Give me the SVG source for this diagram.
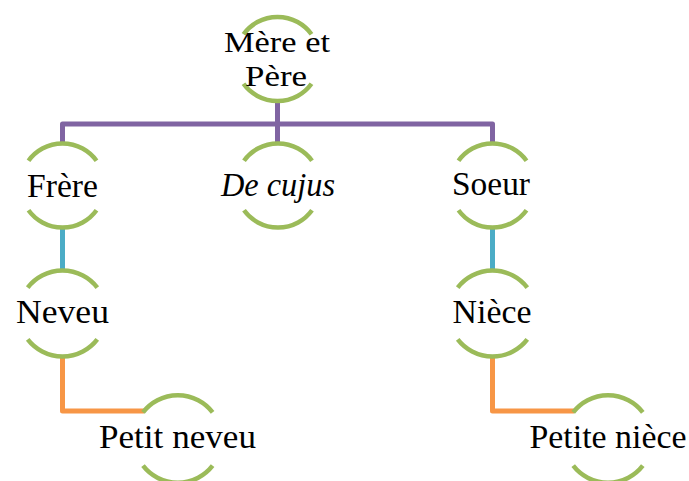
<svg xmlns="http://www.w3.org/2000/svg" width="689" height="481" viewBox="0 0 689 481" font-family="Liberation Serif, DejaVu Serif, serif">
<style>
.arc{fill:none;stroke:#9BBB59;stroke-width:4.5}
.lbl{fill:#000;text-anchor:middle}
.c{fill:none;stroke-width:5;stroke-linejoin:round}
</style>
<rect width="689" height="481" fill="#fff"/>
<g id="connectors">
<path class="c" stroke="#8064A2" d="M62.5,143 V124 H492.5 V143"/>
<path class="c" stroke="#8064A2" d="M277.5,100 V143"/>
<path class="c" stroke="#4BACC6" d="M62.5,228 V270"/>
<path class="c" stroke="#4BACC6" d="M492.5,228 V270"/>
<path class="c" stroke="#F79646" stroke-width="4.5" d="M62.5,357 V411 H144"/>
<path class="c" stroke="#F79646" stroke-width="4.5" d="M492.5,357 V411 H574"/>
</g>
<g id="n-parents">
<path class="arc" d="M243.5,34.3 A42,42 0 0 1 311.5,34.3 M243.5,83.7 A42,42 0 0 0 311.5,83.7"/>
<text class="lbl" x="277" y="52" font-size="30" textLength="106" lengthAdjust="spacingAndGlyphs">Mère et</text>
<text class="lbl" x="276" y="86" font-size="30" textLength="62" lengthAdjust="spacingAndGlyphs">Père</text>
</g>
<g id="n-frere">
<path class="arc" d="M28.5,160.8 A42,42 0 0 1 96.5,160.8 M28.5,210.2 A42,42 0 0 0 96.5,210.2"/>
<text class="lbl" x="62.5" y="197" font-size="33" textLength="71" lengthAdjust="spacingAndGlyphs">Frère</text>
</g>
<g id="n-decujus">
<path class="arc" d="M244,160.8 A42,42 0 0 1 312,160.8 M244,210.2 A42,42 0 0 0 312,210.2"/>
<text class="lbl" x="278" y="196" font-size="33" font-style="italic" textLength="114" lengthAdjust="spacingAndGlyphs">De cujus</text>
</g>
<g id="n-soeur">
<path class="arc" d="M458.5,160.8 A42,42 0 0 1 526.5,160.8 M458.5,210.2 A42,42 0 0 0 526.5,210.2"/>
<text class="lbl" x="491" y="195" font-size="33" textLength="78" lengthAdjust="spacingAndGlyphs">Soeur</text>
</g>
<g id="n-neveu">
<path class="arc" d="M27.7,287.6 A44,44 0 0 1 97.3,287.6 M27.7,339.4 A44,44 0 0 0 97.3,339.4"/>
<text class="lbl" x="62.5" y="323" font-size="33" textLength="93" lengthAdjust="spacingAndGlyphs">Neveu</text>
</g>
<g id="n-niece">
<path class="arc" d="M457.7,287.6 A44,44 0 0 1 527.3,287.6 M457.7,339.4 A44,44 0 0 0 527.3,339.4"/>
<text class="lbl" x="492" y="323" font-size="33" textLength="79" lengthAdjust="spacingAndGlyphs">Nièce</text>
</g>
<g id="n-petitneveu">
<path class="arc" d="M143,412.4 A44,44 0 0 1 212.6,412.4 M143,465.6 A44,44 0 0 0 212.6,465.6"/>
<text class="lbl" x="177.5" y="448" font-size="33" textLength="157" lengthAdjust="spacingAndGlyphs">Petit neveu</text>
</g>
<g id="n-petiteniece">
<path class="arc" d="M573.2,412.4 A44,44 0 0 1 642.8,412.4 M573.2,465.6 A44,44 0 0 0 642.8,465.6"/>
<text class="lbl" x="608" y="448" font-size="33" textLength="157" lengthAdjust="spacingAndGlyphs">Petite nièce</text>
</g>
</svg>
